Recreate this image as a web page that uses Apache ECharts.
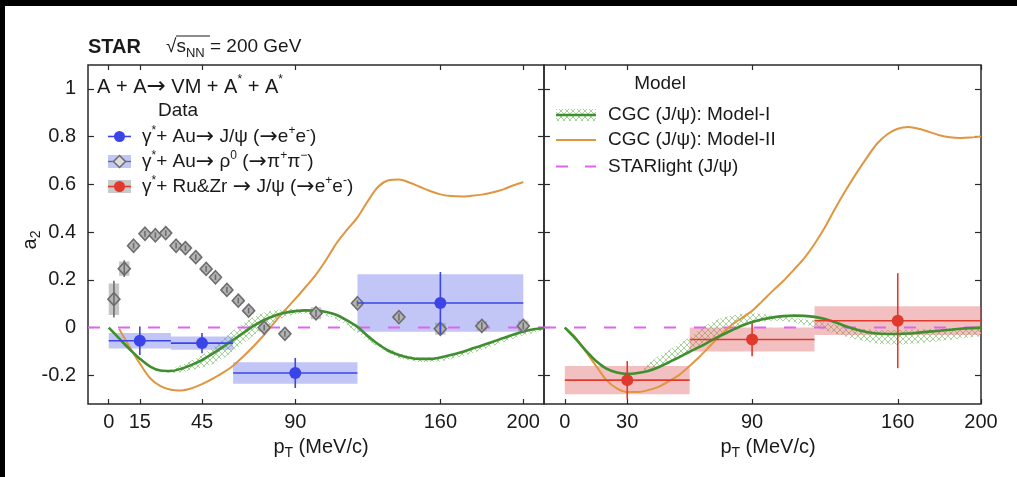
<!DOCTYPE html>
<html>
<head>
<meta charset="utf-8">
<script src="https://cdn.jsdelivr.net/npm/echarts@6/dist/echarts.min.js"></script>
<style>
  html, body { margin: 0; padding: 0; background: #fff; }
  #chart { width: 1017px; height: 477px; }
</style>
</head>
<body>
<div id="chart"></div>
<script>
// ---------- tick labels ----------
const xTicksLeft = [0, 15, 45, 90, 160, 200];
const xTicksRight = [0, 30, 90, 160, 200];
const yTicks = [-0.2, 0, 0.2, 0.4, 0.6, 0.8, 1];

// ---------- data: gamma* + Au -> J/psi (e+e-) ----------
const auJpsiX    = [15, 45, 90, 160];
const auJpsiLo   = [0, 30, 60, 120];
const auJpsiHi   = [30, 60, 120, 200];
const auJpsiY    = [-0.055, -0.065, -0.19, 0.103];
const auJpsiStat = [0.06, 0.042, 0.063, 0.13];
const auJpsiSys  = [0.032, 0.028, 0.045, 0.12];

// ---------- data: gamma* + Au -> rho0 (pi+pi-) ----------
const auRhoX    = [2.5, 7.5, 12, 17.5, 22.5, 27.5, 32.5, 37, 42, 47, 51.5, 57, 62.5, 67.5, 75, 85, 100, 120, 140, 160, 180, 200];
const auRhoY    = [0.119, 0.247, 0.343, 0.393, 0.387, 0.396, 0.343, 0.333, 0.295, 0.246, 0.211, 0.158, 0.113, 0.071, 0.0, -0.026, 0.06, 0.102, 0.044, -0.005, 0.007, 0.007];
const auRhoStat = [0.077, 0.035, 0.012, 0.012, 0.012, 0.012, 0.012, 0.012, 0.012, 0.012, 0.012, 0.012, 0.012, 0.012, 0.012, 0.012, 0.015, 0.012, 0.015, 0.018, 0.015, 0.015];
const auRhoSys  = [0.066, 0.03, 0.012, 0.012, 0.012, 0.012, 0.012, 0.012, 0.012, 0.012, 0.012, 0.012, 0.012, 0.012, 0.015, 0.012, 0.025, 0.012, 0.012, 0.025, 0.02, 0.022];

// ---------- data: gamma* + Ru&Zr -> J/psi (e+e-) ----------
const ruzrX    = [30, 90, 160];
const ruzrLo   = [0, 60, 120];
const ruzrHi   = [60, 120, 200];
const ruzrY    = [-0.22, -0.05, 0.029];
const ruzrStat = [0.08, 0.07, 0.199];
const ruzrSys  = [0.059, 0.05, 0.06];

// ---------- models, Au panel ----------
const cgc1AuX = [0, 5, 10, 15, 20, 25, 30, 35, 40, 45, 50, 55, 60, 65, 70, 75, 80, 85, 90, 95, 100, 105, 110, 115, 120, 125, 130, 135, 140, 145, 150, 155, 160, 165, 170, 175, 180, 185, 190, 195, 200, 205, 210];
const cgc1AuY = [0, -0.045, -0.09, -0.13, -0.163, -0.18, -0.182, -0.172, -0.156, -0.136, -0.11, -0.082, -0.052, -0.022, 0.008, 0.032, 0.05, 0.062, 0.069, 0.072, 0.071, 0.065, 0.053, 0.03, 0.003, -0.035, -0.07, -0.097, -0.115, -0.126, -0.131, -0.131, -0.125, -0.115, -0.103, -0.089, -0.075, -0.06, -0.045, -0.03, -0.016, -0.007, -0.003];
const cgc1AuBandX  = [25, 30, 35, 40, 45, 50, 55, 60, 65, 70, 75, 80, 85, 90, 95, 100, 105, 110, 115, 120, 125, 130, 140, 150, 160, 170, 180, 190, 200, 210];
const cgc1AuBandHi = [-0.18, -0.176, -0.158, -0.138, -0.115, -0.085, -0.05, -0.012, 0.02, 0.045, 0.063, 0.073, 0.078, 0.078, 0.076, 0.068, 0.057, 0.042, 0.022, 0.003, -0.03, -0.063, -0.108, -0.127, -0.122, -0.102, -0.073, -0.042, -0.013, -0.001];
const cgc1AuBandLo = [-0.186, -0.19, -0.187, -0.178, -0.167, -0.153, -0.13, -0.1, -0.066, -0.032, -0.004, 0.024, 0.045, 0.056, 0.06, 0.059, 0.05, 0.034, 0.008, -0.022, -0.052, -0.082, -0.128, -0.145, -0.142, -0.122, -0.094, -0.062, -0.032, -0.012];
const cgc2AuX = [5, 10, 15, 20, 25, 30, 35, 40, 45, 50, 55, 60, 65, 70, 75, 80, 85, 90, 95, 100, 105, 110, 115, 120, 125, 130, 135, 140, 145, 150, 155, 160, 165, 170, 175, 180, 185, 190, 195, 200];
const cgc2AuY = [-0.005, -0.08, -0.15, -0.212, -0.245, -0.26, -0.263, -0.254, -0.237, -0.215, -0.19, -0.16, -0.12, -0.077, -0.03, 0.022, 0.072, 0.12, 0.17, 0.222, 0.285, 0.355, 0.41, 0.462, 0.53, 0.59, 0.617, 0.62, 0.608, 0.59, 0.572, 0.558, 0.551, 0.549, 0.552, 0.557, 0.566, 0.578, 0.595, 0.61];

// ---------- models, Ru&Zr panel ----------
const cgc1RuX = [0, 5, 10, 15, 20, 25, 30, 35, 40, 45, 50, 55, 60, 65, 70, 75, 80, 85, 90, 95, 100, 105, 110, 115, 120, 125, 130, 135, 140, 145, 150, 155, 160, 165, 170, 175, 180, 185, 190, 195, 200];
const cgc1RuY = [0, -0.045, -0.095, -0.14, -0.172, -0.188, -0.194, -0.19, -0.182, -0.166, -0.145, -0.124, -0.101, -0.08, -0.056, -0.033, -0.012, 0.008, 0.023, 0.035, 0.043, 0.048, 0.05, 0.049, 0.045, 0.036, 0.022, 0.006, -0.008, -0.018, -0.025, -0.027, -0.027, -0.025, -0.021, -0.017, -0.013, -0.009, -0.005, -0.002, 0];
const cgc1RuBandX  = [38, 45, 50, 55, 60, 65, 70, 75, 80, 85, 90, 95, 100, 105, 110, 120, 130, 140, 150, 160, 170, 180, 190, 200];
const cgc1RuBandHi = [-0.165, -0.12, -0.095, -0.068, -0.04, -0.008, 0.02, 0.04, 0.05, 0.058, 0.06, 0.057, 0.05, 0.045, 0.04, 0.03, 0.012, -0.003, -0.01, -0.01, -0.008, -0.005, -0.002, 0.0];
const cgc1RuBandLo = [-0.178, -0.165, -0.15, -0.122, -0.098, -0.072, -0.047, -0.026, -0.01, 0.005, 0.018, 0.026, 0.03, 0.028, 0.022, 0.002, -0.025, -0.05, -0.068, -0.072, -0.066, -0.056, -0.046, -0.036];
const cgc2RuX = [0, 5, 10, 15, 20, 25, 30, 35, 40, 45, 50, 55, 60, 65, 70, 75, 80, 85, 90, 95, 100, 105, 110, 115, 120, 125, 130, 135, 140, 145, 150, 155, 160, 165, 170, 175, 180, 185, 190, 195, 200];
const cgc2RuY = [0, -0.04, -0.1, -0.16, -0.22, -0.255, -0.27, -0.27, -0.262, -0.248, -0.225, -0.198, -0.16, -0.12, -0.075, -0.03, 0.01, 0.04, 0.07, 0.112, 0.155, 0.195, 0.242, 0.29, 0.35, 0.42, 0.5, 0.575, 0.645, 0.71, 0.77, 0.81, 0.833, 0.84, 0.833, 0.82, 0.806, 0.797, 0.794, 0.796, 0.801];

// STARlight (flat at zero)
const starlightLeftX = [-10, 210];
const starlightRightX = [-10, 200];
const starlightY = [0, 0];

// ---------- styling ----------
const FONT = '"Liberation Sans", Arial, Helvetica, sans-serif';
const SYM_FONT = '"DejaVu Sans", "Liberation Sans", sans-serif';
const INK = '#1a1a1a';
const FRAME = '#2a2a2a';
const BLUE = '#3b44e6';
const BLUE_BOX = 'rgba(110,120,235,0.42)';
const GRAY = '#6d6d6d';
const GRAY_FILL = '#b3b3b3';
const GRAY_BOX = 'rgba(120,120,120,0.42)';
const RED = '#e03a2c';
const RED_BOX = 'rgba(222,90,90,0.38)';
const GREEN = '#3f8e2f';
const ORANGE = '#e09640';
const MAGENTA = '#dd66ee';
const RHO_BOX_HALF = 2.5;

// cross-hatch pattern for the model band
const hatch = (function () {
  const c = document.createElement('canvas');
  c.width = 6; c.height = 6;
  const g = c.getContext('2d');
  g.strokeStyle = '#a6d399';
  g.lineWidth = 1;
  g.beginPath();
  g.moveTo(0, 0); g.lineTo(6, 6);
  g.moveTo(6, 0); g.lineTo(0, 6);
  g.stroke();
  return c;
})();
const hatchFill = { image: hatch, repeat: 'repeat' };

const zip = (xs, ys) => xs.map((x, i) => [x, ys[i]]);

function bandSeries(xs, lo, hi, xi, yi) {
  return {
    type: 'custom', xAxisIndex: xi, yAxisIndex: yi, clip: true, silent: true, z: 1,
    data: [[xs[0], lo[0]]],
    renderItem: function (params, api) {
      const pts = [];
      for (let i = 0; i < xs.length; i++) pts.push(api.coord([xs[i], hi[i]]));
      for (let i = xs.length - 1; i >= 0; i--) pts.push(api.coord([xs[i], lo[i]]));
      return { type: 'polygon', shape: { points: pts }, style: { fill: hatchFill } };
    }
  };
}

function boxSeries(rows, fill, xi, yi, halfW) {
  return {
    type: 'custom', xAxisIndex: xi, yAxisIndex: yi, clip: true, silent: true, z: 2,
    data: rows,
    encode: { x: 0, y: 1 },
    renderItem: function (params, api) {
      const x = api.value(0), y = api.value(1), s = api.value(5);
      const lo = halfW ? x - halfW : api.value(2);
      const hi = halfW ? x + halfW : api.value(3);
      const p0 = api.coord([lo, y + s]), p1 = api.coord([hi, y - s]);
      return { type: 'rect', shape: { x: p0[0], y: p0[1], width: p1[0] - p0[0], height: p1[1] - p0[1] }, style: { fill: fill } };
    }
  };
}

function barSeries(rows, color, xi, yi, withX, z) {
  return {
    type: 'custom', xAxisIndex: xi, yAxisIndex: yi, clip: true, silent: true, z: z,
    data: rows,
    encode: { x: 0, y: 1 },
    renderItem: function (params, api) {
      const x = api.value(0), y = api.value(1), st = api.value(4);
      const kids = [];
      if (withX) {
        const a = api.coord([api.value(2), y]), b = api.coord([api.value(3), y]);
        kids.push({ type: 'line', shape: { x1: a[0], y1: a[1], x2: b[0], y2: b[1] }, style: { stroke: color, lineWidth: 1.6 } });
      }
      const c = api.coord([x, y + st]), d = api.coord([x, y - st]);
      kids.push({ type: 'line', shape: { x1: c[0], y1: c[1], x2: d[0], y2: d[1] }, style: { stroke: color, lineWidth: 1.6 } });
      return { type: 'group', children: kids };
    }
  };
}

const auJpsiRows = auJpsiX.map((x, i) => [x, auJpsiY[i], auJpsiLo[i], auJpsiHi[i], auJpsiStat[i], auJpsiSys[i]]);
const auRhoRows = auRhoX.map((x, i) => [x, auRhoY[i], x, x, auRhoStat[i], auRhoSys[i]]);
const ruzrRows = ruzrX.map((x, i) => [x, ruzrY[i], ruzrLo[i], ruzrHi[i], ruzrStat[i], ruzrSys[i]]);

function xAxisDef(grid, min, max, ticks, pos, labels) {
  return {
    type: 'value', gridIndex: grid, min: min, max: max, position: pos,
    axisLine: { show: false, onZero: false },
    axisTick: { show: true, inside: true, length: 5, customValues: ticks, lineStyle: { color: FRAME, width: 1.2 } },
    axisLabel: labels ? { show: true, customValues: ticks, fontSize: 20, color: INK, fontFamily: FONT, margin: 8 } : { show: false },
    splitLine: { show: false }
  };
}
function yAxisDef(grid, pos, labels) {
  return {
    type: 'value', gridIndex: grid, min: -0.32, max: 1.1, position: pos,
    axisLine: { show: false, onZero: false },
    axisTick: { show: true, inside: true, length: 6, customValues: yTicks, lineStyle: { color: FRAME, width: 1.2 } },
    axisLabel: labels ? { show: true, customValues: yTicks, fontSize: 20, color: INK, fontFamily: FONT, margin: 12 } : { show: false },
    splitLine: { show: false }
  };
}

// ---------- text helpers ----------
const richBase = (size, lh) => ({
  t: { fontSize: size, lineHeight: lh, fontFamily: FONT, fill: INK, color: INK },
  a: { fontSize: Math.round(size * 1.15), lineHeight: lh, fontFamily: SYM_FONT, fill: INK, color: INK },
  s: { fontSize: Math.round(size * 0.62), lineHeight: Math.round(size * 0.62), verticalAlign: 'top', fontFamily: FONT, fill: INK, color: INK },
  b: { fontSize: Math.round(size * 0.68), lineHeight: Math.round(size * 0.68), verticalAlign: 'bottom', fontFamily: FONT, fill: INK, color: INK }
});
function label(x, y, text, size, opts) {
  opts = opts || {};
  const lh = Math.round(size * 1.3);
  return {
    type: 'text', x: x, y: y, rotation: opts.rotation || 0, z: 100,
    style: {
      text: text, rich: richBase(size, lh),
      font: (opts.bold ? 'bold ' : '') + size + 'px ' + FONT,
      fill: INK,
      align: opts.align || 'left', verticalAlign: 'middle',
      textAlign: opts.align || 'left', textVerticalAlign: 'middle'
    }
  };
}

const graphics = [
  // outer dark edge
  { type: 'rect', shape: { x: 0, y: 0, width: 1017, height: 6 }, style: { fill: '#000' }, z: 100 },
  { type: 'rect', shape: { x: 0, y: 0, width: 5, height: 477 }, style: { fill: '#000' }, z: 100 },

  // header
  label(88, 47, 'STAR', 20, { bold: true }),
  label(166, 47, '{t|√s}{b|NN}{t| = 200 GeV}', 19),
  { type: 'line', shape: { x1: 176, y1: 36, x2: 210, y2: 36 }, style: { stroke: INK, lineWidth: 1 }, z: 100 },

  // axis titles
  label(321, 447, '{t|p}{b|T}{t| (MeV/c)}', 20, { align: 'center' }),
  label(768, 447, '{t|p}{b|T}{t| (MeV/c)}', 20, { align: 'center' }),
  label(30, 240, '{t|a}{b|2}', 20, { align: 'center', rotation: Math.PI / 2 }),

  // process + data legend
  label(97, 87, '{t|A + A}{a|→}{t| VM + A}{s|*}{t| + A}{s|*}', 20),
  label(178, 111, 'Data', 19, { align: 'center' }),

  { type: 'line', shape: { x1: 108, y1: 136.5, x2: 131, y2: 136.5 }, style: { stroke: BLUE, lineWidth: 1.6 }, z: 100 },
  { type: 'circle', shape: { cx: 119.5, cy: 136.5, r: 5.5 }, style: { fill: BLUE }, z: 101 },
  label(142, 137, '{t|γ}{s|*}{t|+ Au}{a|→}{t| J/ψ (}{a|→}{t|e}{s|+}{t|e}{s|-}{t|)}', 19),

  { type: 'rect', shape: { x: 108, y: 155, width: 23, height: 13 }, style: { fill: BLUE_BOX }, z: 100 },
  { type: 'line', shape: { x1: 108, y1: 161.5, x2: 131, y2: 161.5 }, style: { stroke: GRAY, lineWidth: 1.4 }, z: 100 },
  { type: 'polygon', shape: { points: [[119.5, 155.5], [125.5, 161.5], [119.5, 167.5], [113.5, 161.5]] }, style: { fill: '#dcdcdc', stroke: GRAY, lineWidth: 1.5 }, z: 101 },
  label(142, 162, '{t|γ}{s|*}{t|+ Au}{a|→}{t| ρ}{s|0}{t| (}{a|→}{t|π}{s|+}{t|π}{s|−}{t|)}', 19),

  { type: 'rect', shape: { x: 108, y: 180, width: 23, height: 13 }, style: { fill: '#c9c9c9' }, z: 100 },
  { type: 'line', shape: { x1: 108, y1: 186.5, x2: 131, y2: 186.5 }, style: { stroke: RED, lineWidth: 1.6 }, z: 100 },
  { type: 'circle', shape: { cx: 119.5, cy: 186.5, r: 5.5 }, style: { fill: RED }, z: 101 },
  label(142, 187, '{t|γ}{s|*}{t|+ Ru&Zr }{a|→}{t| J/ψ (}{a|→}{t|e}{s|+}{t|e}{s|-}{t|)}', 19),

  // model legend
  label(660, 84, 'Model', 19, { align: 'center' }),
  { type: 'rect', shape: { x: 556, y: 109, width: 40, height: 12 }, style: { fill: hatchFill }, z: 100 },
  { type: 'line', shape: { x1: 556, y1: 115, x2: 596, y2: 115 }, style: { stroke: GREEN, lineWidth: 2.6 }, z: 101 },
  label(608, 115, 'CGC (J/ψ): Model-I', 19),
  { type: 'line', shape: { x1: 556, y1: 140, x2: 596, y2: 140 }, style: { stroke: ORANGE, lineWidth: 2 }, z: 100 },
  label(608, 140, 'CGC (J/ψ): Model-II', 19),
  { type: 'line', shape: { x1: 556, y1: 166.5, x2: 568, y2: 166.5 }, style: { stroke: MAGENTA, lineWidth: 2 }, z: 100 },
  { type: 'line', shape: { x1: 585, y1: 166.5, x2: 596, y2: 166.5 }, style: { stroke: MAGENTA, lineWidth: 2 }, z: 100 },
  label(608, 166.5, 'STARlight (J/ψ)', 19)
];

const lineStyleOf = (color, width, type) => ({ color: color, width: width, type: type || 'solid' });

const option = {
  animation: false,
  backgroundColor: '#fff',
  textStyle: { fontFamily: FONT },
  grid: [
    { left: 88, top: 65, width: 456, height: 339, show: true, borderColor: FRAME, borderWidth: 1.5, backgroundColor: 'transparent' },
    { left: 544, top: 65, width: 437, height: 339, show: true, borderColor: FRAME, borderWidth: 1.5, backgroundColor: 'transparent' }
  ],
  xAxis: [
    xAxisDef(0, -10, 210, xTicksLeft, 'bottom', true),
    xAxisDef(0, -10, 210, xTicksLeft, 'top', false),
    xAxisDef(1, -10, 200, xTicksRight, 'bottom', true),
    xAxisDef(1, -10, 200, xTicksRight, 'top', false)
  ],
  yAxis: [
    yAxisDef(0, 'left', true),
    yAxisDef(0, 'right', false),
    yAxisDef(1, 'left', false),
    yAxisDef(1, 'right', false)
  ],
  graphic: graphics,
  series: [
    // ---- Au panel ----
    bandSeries(cgc1AuBandX, cgc1AuBandLo, cgc1AuBandHi, 0, 0),
    boxSeries(auJpsiRows, BLUE_BOX, 0, 0, 0),
    boxSeries(auRhoRows, GRAY_BOX, 0, 0, RHO_BOX_HALF),
    { type: 'line', xAxisIndex: 0, yAxisIndex: 0, data: zip(starlightLeftX, starlightY), symbol: 'none', z: 3,
      lineStyle: { color: MAGENTA, width: 2, type: [12, 18] } },
    { type: 'line', xAxisIndex: 0, yAxisIndex: 0, data: zip(cgc2AuX, cgc2AuY), symbol: 'none', smooth: 0.3, z: 4,
      lineStyle: lineStyleOf(ORANGE, 2) },
    { type: 'line', xAxisIndex: 0, yAxisIndex: 0, data: zip(cgc1AuX, cgc1AuY), symbol: 'none', smooth: 0.3, z: 4,
      lineStyle: lineStyleOf(GREEN, 2.6) },
    { type: 'scatter', xAxisIndex: 0, yAxisIndex: 0, data: zip(auRhoX, auRhoY), symbol: 'diamond', symbolSize: [12, 13], z: 5,
      itemStyle: { color: GRAY_FILL, borderColor: GRAY, borderWidth: 1.6, opacity: 1 } },
    barSeries(auRhoRows, GRAY, 0, 0, false, 6),
    barSeries(auJpsiRows, BLUE, 0, 0, true, 6),
    { type: 'scatter', xAxisIndex: 0, yAxisIndex: 0, data: zip(auJpsiX, auJpsiY), symbol: 'circle', symbolSize: 12, z: 7,
      itemStyle: { color: BLUE, opacity: 1 } },

    // ---- Ru&Zr panel ----
    bandSeries(cgc1RuBandX, cgc1RuBandLo, cgc1RuBandHi, 2, 2),
    boxSeries(ruzrRows, RED_BOX, 2, 2, 0),
    { type: 'line', xAxisIndex: 2, yAxisIndex: 2, data: zip(starlightRightX, starlightY), symbol: 'none', z: 3,
      lineStyle: { color: MAGENTA, width: 2, type: [12, 18] } },
    { type: 'line', xAxisIndex: 2, yAxisIndex: 2, data: zip(cgc2RuX, cgc2RuY), symbol: 'none', smooth: 0.3, z: 4,
      lineStyle: lineStyleOf(ORANGE, 2) },
    { type: 'line', xAxisIndex: 2, yAxisIndex: 2, data: zip(cgc1RuX, cgc1RuY), symbol: 'none', smooth: 0.3, z: 4,
      lineStyle: lineStyleOf(GREEN, 2.6) },
    barSeries(ruzrRows, RED, 2, 2, true, 6),
    { type: 'scatter', xAxisIndex: 2, yAxisIndex: 2, data: zip(ruzrX, ruzrY), symbol: 'circle', symbolSize: 12, z: 7,
      itemStyle: { color: RED, opacity: 1 } }
  ]
};

const chart = echarts.init(document.getElementById('chart'), null, { renderer: 'canvas' });
chart.setOption(option);
</script>
</body>
</html>
